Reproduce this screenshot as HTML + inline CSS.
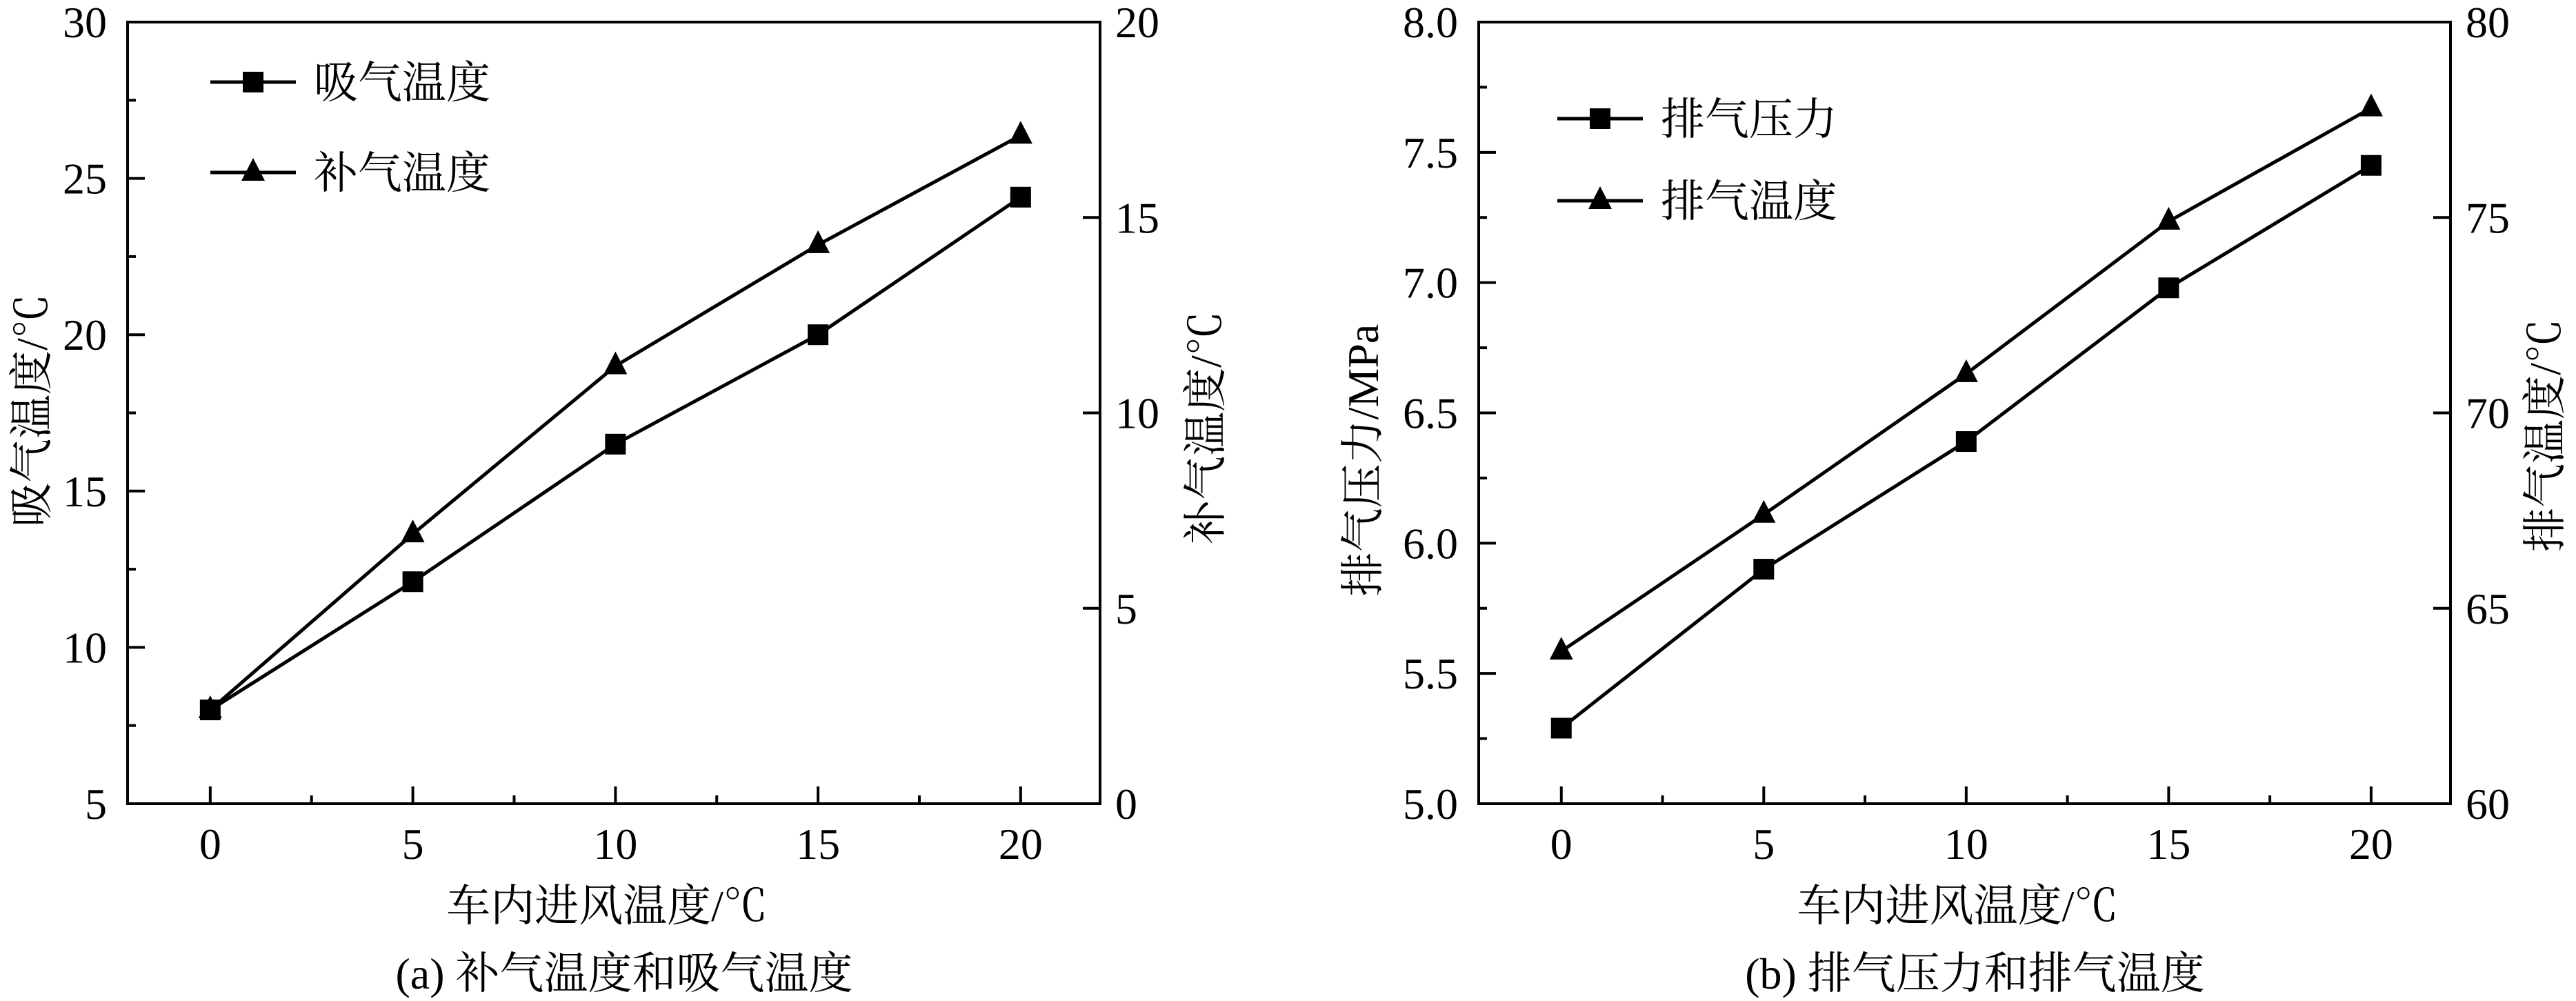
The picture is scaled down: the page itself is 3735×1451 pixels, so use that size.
<!DOCTYPE html>
<html><head><meta charset="utf-8"><style>
html,body{margin:0;padding:0;background:#fff;}
svg{display:block;}
text{font-family:"Liberation Serif","Noto Serif CJK SC","Noto Sans CJK SC",serif;fill:#000;}
</style></head><body>
<svg id="svg" xmlns="http://www.w3.org/2000/svg" width="3735" height="1451" viewBox="0 0 3735 1451"></svg>
<script>
const categories = [0, 5, 10, 15, 20];
const xTicks = [0, 5, 10, 15, 20];
// chart a
const suctionTemp = [8.0, 12.1, 16.5, 20.0, 24.4];
const injectTemp = [2.4, 6.9, 11.2, 14.3, 17.1];
const aLeftTicks = [5, 10, 15, 20, 25, 30];
const aRightTicks = [0, 5, 10, 15, 20];
// chart b
const dischargePressure = [5.29, 5.90, 6.39, 6.98, 7.45];
const dischargeTemp = [63.9, 67.4, 71.0, 74.9, 77.8];
const bLeftTicks = ["5.0", "5.5", "6.0", "6.5", "7.0", "7.5", "8.0"];
const bRightTicks = [60, 65, 70, 75, 80];

const NS = "http://www.w3.org/2000/svg";
const svg = document.getElementById('svg');
const FS = 64;
function mk(tag, attrs, parent, txt){
  const e = document.createElementNS(NS, tag);
  for (const k in attrs) e.setAttribute(k, attrs[k]);
  if (txt !== undefined) e.textContent = txt;
  (parent || svg).appendChild(e);
  return e;
}
function chart(cfg){
  const g = mk('g', {});
  
  
  const L = cfg.left, R = cfg.right, T = 32, B = 1165;
  const xs = v => L + (v - (-2.04)) / (21.96 - (-2.04)) * (R - L);
  const yl = v => B - (v - cfg.lmin) / (cfg.lmax - cfg.lmin) * (B - T);
  const yr = v => B - (v - cfg.rmin) / (cfg.rmax - cfg.rmin) * (B - T);
  const frame = mk('rect', {x:L, y:T, width:R-L, height:B-T, fill:'none', stroke:'#000', 'stroke-width':4}, g);
  
  
  xTicks.forEach((v, i) => {
    const x = xs(v);
    const t = mk('line', {x1:x, x2:x, y1:B, y2:B-25, stroke:'#000', 'stroke-width':4}, g);
    
    
    const lb = mk('text', {x:x, y:1245, 'font-size':FS, 'text-anchor':'middle'}, g, String(v));
    
    
    if (i < xTicks.length - 1) {
      const mx = xs(v + 2.5);
      const m = mk('line', {x1:mx, x2:mx, y1:B, y2:B-12, stroke:'#000', 'stroke-width':4}, g);
      
      
    }
  });
  cfg.lticks.forEach((s, i) => {
    const v = parseFloat(s), y = yl(v);
    const t = mk('line', {x1:L, x2:L+25, y1:y, y2:y, stroke:'#000', 'stroke-width':4}, g);
    
    
    const lb = mk('text', {x:cfg.lLabelX, y:y+22, 'font-size':FS, 'text-anchor':'end'}, g, String(s));
    
    
    if (i < cfg.lticks.length - 1) {
      const my = yl(v + cfg.lstep / 2);
      const m = mk('line', {x1:L, x2:L+12, y1:my, y2:my, stroke:'#000', 'stroke-width':4}, g);
      
      
    }
  });
  cfg.rticks.forEach(v => {
    const y = yr(v);
    const t = mk('line', {x1:R, x2:R-25, y1:y, y2:y, stroke:'#000', 'stroke-width':4}, g);
    
    
    const lb = mk('text', {x:R+22, y:y+22, 'font-size':FS, 'text-anchor':'start'}, g, String(v));
    
    
  });
  function series(vals, ys, marker, nm){
    const pts = vals.map((v, i) => xs(categories[i]) + ',' + ys(v)).join(' ');
    const pl = mk('polyline', {points:pts, fill:'none', stroke:'#000', 'stroke-width':5}, g);
    
    
    vals.forEach((v, i) => {
      const x = xs(categories[i]), y = ys(v);
      let m;
      if (marker === 'sq') m = mk('rect', {x:x-15, y:y-15, width:30, height:30, fill:'#000'}, g);
      else m = mk('polygon', {points:`${x},${y-21} ${x-17},${y+12} ${x+17},${y+12}`, fill:'#000'}, g);
      
      
    });
  }
  series(cfg.s1, yl, 'sq', cfg.s1name);
  series(cfg.s2, yr, 'tri', cfg.s2name);
  [[cfg.leg1, cfg.legY1, 'sq'], [cfg.leg2, cfg.legY2, 'tri']].forEach(([txt, y, mkType]) => {
    const lg = mk('g', {}, g);
    
    
    mk('line', {x1:cfg.legX, x2:cfg.legX+124, y1:y, y2:y, stroke:'#000', 'stroke-width':5}, lg);
    const cx = cfg.legX + 62;
    if (mkType === 'sq') mk('rect', {x:cx-15, y:y-15, width:30, height:30, fill:'#000'}, lg);
    else mk('polygon', {points:`${cx},${y-21} ${cx-17},${y+12} ${cx+17},${y+12}`, fill:'#000'}, lg);
    mk('text', {x:cfg.legX+150, y:y+23, 'font-size':FS}, lg, txt);
  });
  const xt = mk('text', {x:(L+R)/2 - 10, y:1335, 'font-size':FS, 'text-anchor':'middle'}, g, '车内进风温度/℃');
  
  
  const ylt = mk('text', {x:0, y:0, 'font-size':FS, 'text-anchor':'middle', transform:`translate(${cfg.ylTitleX},${cfg.ylTitleY}) rotate(-90)`}, g, cfg.ylTitle);
  
  
  const yrt = mk('text', {x:0, y:0, 'font-size':FS, 'text-anchor':'middle', transform:`translate(${cfg.yrTitleX},${cfg.yrTitleY}) rotate(-90)`}, g, cfg.yrTitle);
  
  
  const cap = mk('text', {x:(L+R)/2 + 15, y:1433, 'font-size':FS, 'text-anchor':'middle'}, g, cfg.caption);
  
  
}
chart({name:'chart-a', left:185, right:1595, lmin:5, lmax:30, rmin:0, rmax:20,
  lticks:aLeftTicks, lstep:5, rticks:aRightTicks, lLabelX:155,
  s1:suctionTemp, s2:injectTemp, s1name:'suction-temp', s2name:'inject-temp',
  leg1:'吸气温度', leg2:'补气温度', legX:305, legY1:119, legY2:250,
  ylTitle:'吸气温度/℃', ylTitleX:68, ylTitleY:595, yrTitle:'补气温度/℃', yrTitleX:1770, yrTitleY:620,
  caption:'(a) 补气温度和吸气温度'});
chart({name:'chart-b', left:2144, right:3553, lmin:5, lmax:8, rmin:60, rmax:80,
  lticks:bLeftTicks, lstep:0.5, rticks:bRightTicks, lLabelX:2114,
  s1:dischargePressure, s2:dischargeTemp, s1name:'discharge-pressure', s2name:'discharge-temp',
  leg1:'排气压力', leg2:'排气温度', legX:2258, legY1:172, legY2:291,
  ylTitle:'排气压力/MPa', ylTitleX:1998, ylTitleY:667, yrTitle:'排气温度/℃', yrTitleX:3712, yrTitleY:631,
  caption:'(b) 排气压力和排气温度'});
</script>
</body></html>
